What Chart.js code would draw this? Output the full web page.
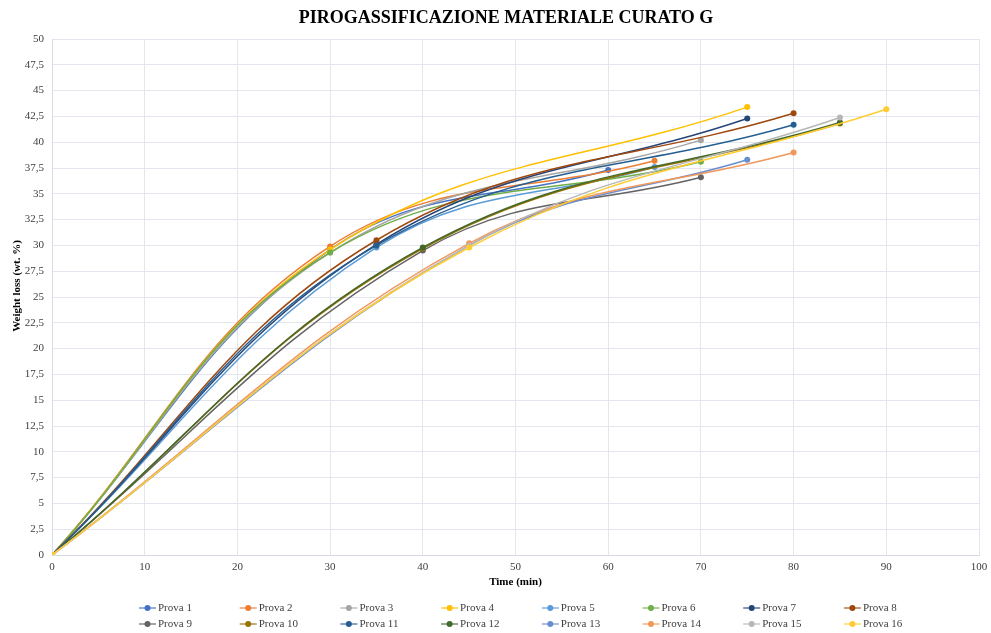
<!DOCTYPE html>
<html>
<head>
<meta charset="utf-8">
<script src="https://cdn.jsdelivr.net/npm/chart.js@4.4.1/dist/chart.umd.min.js"></script>
<style>
  html, body { margin: 0; padding: 0; background: #ffffff; }
  #wrap { position: relative; width: 991px; height: 633px; }
</style>
</head>
<body>
<div id="wrap"><canvas id="c" width="991" height="633"></canvas></div>
<script>
// ---- Data ----
const seriesNames = ["Prova 1","Prova 2","Prova 3","Prova 4","Prova 5","Prova 6","Prova 7","Prova 8",
                     "Prova 9","Prova 10","Prova 11","Prova 12","Prova 13","Prova 14","Prova 15","Prova 16"];
const seriesColors = ["#4472C4","#ED7D31","#A5A5A5","#FFC000","#5B9BD5","#70AD47","#264478","#9E480E",
                      "#636363","#997300","#255E91","#43682B","#698ED0","#F1975A","#B7B7B7","#FFCD33"];
// time (min) and weight loss (wt. %) of each measured point, per series
const prova1T  = [0, 30, 60];  const prova1W  = [0, 29.6, 37.3];
const prova2T  = [0, 30, 65];  const prova2W  = [0, 29.9, 38.2];
const prova3T  = [0, 30, 70];  const prova3W  = [0, 29.3, 40.2];
const prova4T  = [0, 30, 75];  const prova4W  = [0, 29.6, 43.4];
const prova5T  = [0, 35, 65];  const prova5W  = [0, 29.8, 37.6];
const prova6T  = [0, 30, 70];  const prova6W  = [0, 29.3, 38.1];
const prova7T  = [0, 35, 75];  const prova7W  = [0, 30.1, 42.3];
const prova8T  = [0, 35, 80];  const prova8W  = [0, 30.5, 42.8];
const prova9T  = [0, 40, 70];  const prova9W  = [0, 29.5, 36.6];
const prova10T = [0, 40, 85];  const prova10W = [0, 29.7, 41.8];
const prova11T = [0, 35, 80];  const prova11W = [0, 30.0, 41.7];
const prova12T = [0, 40, 85];  const prova12W = [0, 29.8, 41.9];
const prova13T = [0, 45, 75];  const prova13W = [0, 30.0, 38.3];
const prova14T = [0, 45, 80];  const prova14W = [0, 30.2, 39.0];
const prova15T = [0, 45, 85];  const prova15W = [0, 30.0, 42.4];
const prova16T = [0, 45, 90];  const prova16W = [0, 29.8, 43.2];

const allT = [prova1T,prova2T,prova3T,prova4T,prova5T,prova6T,prova7T,prova8T,
              prova9T,prova10T,prova11T,prova12T,prova13T,prova14T,prova15T,prova16T];
const allW = [prova1W,prova2W,prova3W,prova4W,prova5W,prova6W,prova7W,prova8W,
              prova9W,prova10W,prova11W,prova12W,prova13W,prova14W,prova15W,prova16W];

const chartTitle = "PIROGASSIFICAZIONE MATERIALE CURATO G";
const xTitle = "Time (min)";
const yTitle = "Weight loss (wt. %)";

const datasets = seriesNames.map((name, i) => ({
  label: name,
  data: allT[i].map((t, k) => ({x: t, y: allW[i][k]})),
  borderColor: seriesColors[i],
  backgroundColor: seriesColors[i],
  pointBackgroundColor: seriesColors[i],
  pointBorderColor: seriesColors[i],
  pointRadius: 3,
  pointBorderWidth: 0,
  borderWidth: 1.5,
  showLine: true,
  tension: 0.4,
  order: 16 - i
}));

const SERIF = "'Liberation Serif', 'Times New Roman', serif";

const decorPlugin = {
  id: 'decor',
  afterDraw(chart) {
    const ctx = chart.ctx;
    const area = chart.chartArea;
    ctx.save();
    // title
    ctx.fillStyle = '#000000';
    ctx.font = "bold 18px " + SERIF;
    ctx.textAlign = 'center';
    ctx.textBaseline = 'middle';
    ctx.fillText(chartTitle, 506, 18);
    // x title
    ctx.font = "bold 11px " + SERIF;
    ctx.fillStyle = '#000000';
    ctx.fillText(xTitle, (area.left + area.right) / 2, 582);
    // y title
    ctx.save();
    ctx.translate(17, 286);
    ctx.rotate(-Math.PI / 2);
    ctx.fillText(yTitle, 0, 0);
    ctx.restore();
    // legend
    ctx.font = "11px " + SERIF;
    ctx.textAlign = 'left';
    for (let i = 0; i < seriesNames.length; i++) {
      const col = i % 8, row = Math.floor(i / 8);
      const x0 = 139 + col * 100.7;
      const y0 = row === 0 ? 608 : 624;
      ctx.strokeStyle = seriesColors[i];
      ctx.globalAlpha = 0.75;
      ctx.lineWidth = 1.5;
      ctx.beginPath();
      ctx.moveTo(x0, y0);
      ctx.lineTo(x0 + 17, y0);
      ctx.stroke();
      ctx.globalAlpha = 1;
      ctx.fillStyle = seriesColors[i];
      ctx.beginPath();
      ctx.arc(x0 + 8.5, y0, 3, 0, Math.PI * 2);
      ctx.fill();
      ctx.fillStyle = '#404040';
      ctx.fillText(seriesNames[i], x0 + 19, y0 + 0.5);
    }
    ctx.restore();
  }
};

new Chart(document.getElementById('c'), {
  type: 'scatter',
  data: { datasets },
  options: {
    responsive: false,
    animation: false,
    devicePixelRatio: 1,
    layout: { padding: { left: 0, right: 12, top: 39, bottom: 0 } },
    plugins: {
      legend: { display: false },
      title: { display: false },
      tooltip: { enabled: false }
    },
    scales: {
      x: {
        type: 'linear',
        min: 0, max: 100,
        afterFit(scale) { scale.height = 78; scale.paddingRight = 0; },
        ticks: {
          stepSize: 10,
          padding: 6,
          color: '#404040',
          font: { family: SERIF, size: 11 },
          maxRotation: 0
        },
        grid: { color: '#e3e6ee', lineWidth: 1, drawTicks: false },
        border: { color: '#d5dae6', width: 1 }
      },
      y: {
        type: 'linear',
        min: 0, max: 50,
        afterFit(scale) { scale.width = 52; },
        ticks: {
          stepSize: 2.5,
          padding: 8,
          color: '#404040',
          font: { family: SERIF, size: 11 },
          callback: (v) => String(v).replace('.', ',')
        },
        grid: { color: '#e3e6ee', lineWidth: 1, drawTicks: false },
        border: { color: '#d5dae6', width: 1 }
      }
    }
  },
  plugins: [decorPlugin]
});
</script>
</body>
</html>
